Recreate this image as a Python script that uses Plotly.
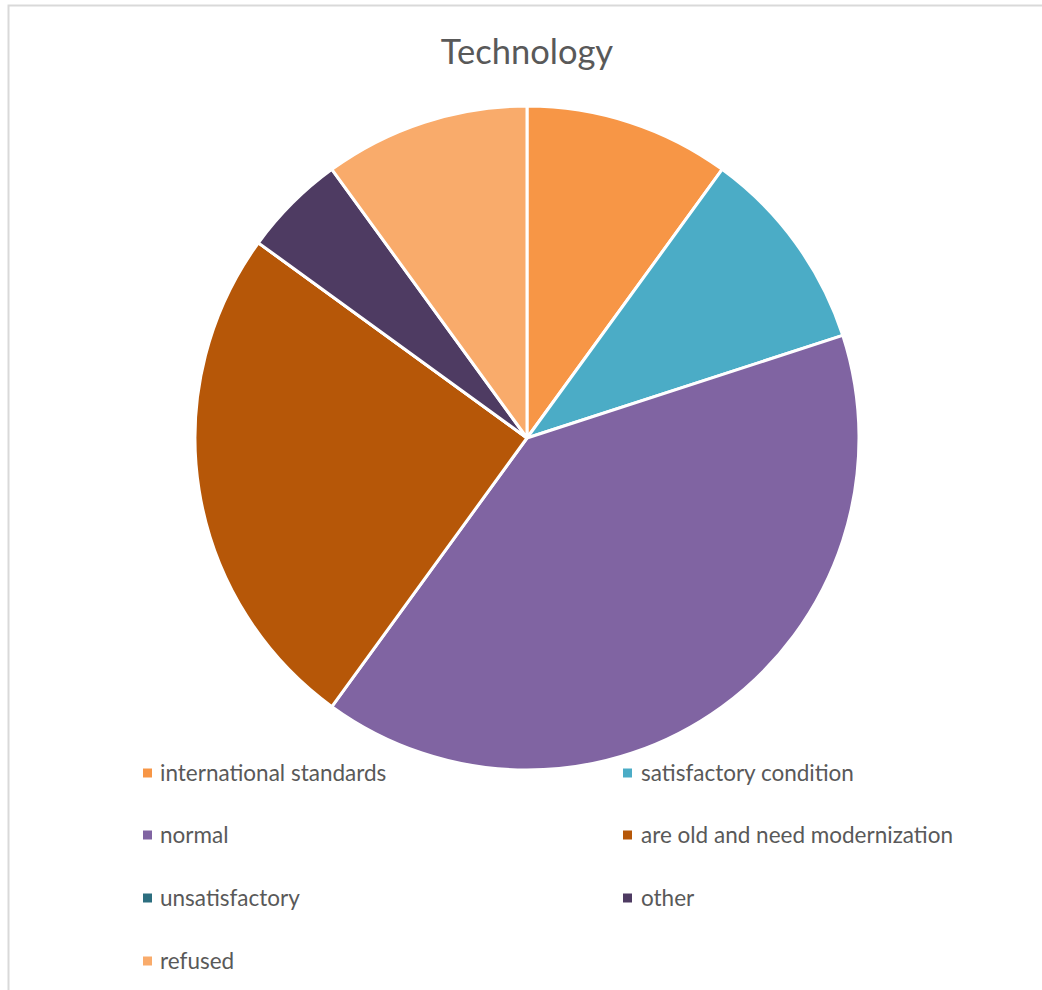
import plotly.graph_objects as go

# Survey answers on the state of technology
categories = [
    "international standards",
    "satisfactory condition",
    "normal",
    "are old and need modernization",
    "unsatisfactory",
    "other",
    "refused",
]
shares = [10, 10, 40, 25, 0, 5, 10]
colors = ["#F79646", "#4BACC6", "#8064A2", "#B65708", "#2C6E7F", "#4E3B62", "#F9AB6B"]

W, H = 1042, 990
TEXT = "#595959"
FONT = "Lato, Carlito, 'Open Sans', sans-serif"

# pie placement in pixels
cx, cy, r = 527, 438, 332

fig = go.Figure(
    go.Pie(
        labels=categories,
        values=shares,
        marker=dict(colors=colors, line=dict(color="white", width=3)),
        sort=False,
        direction="clockwise",
        rotation=0,
        textinfo="none",
        hoverinfo="label+percent",
        showlegend=False,
        domain=dict(
            x=[(cx - r) / W, (cx + r) / W],
            y=[(H - cy - r) / H, (H - cy + r) / H],
        ),
    )
)

# two-column legend beneath the pie
col_marker_x = [143, 623]
col_text_x = [158, 639]
row_y = [773, 835, 898, 961]
shapes = []
annotations = []
for i, (name, col) in enumerate(zip(categories, colors)):
    c, rrow = i % 2, i // 2
    y = row_y[rrow]
    mx = col_marker_x[c]
    shapes.append(dict(
        type="rect", xref="paper", yref="paper",
        x0=mx / W, x1=(mx + 9) / W,
        y0=(H - y - 4.5) / H, y1=(H - y + 4.5) / H,
        fillcolor=col, line=dict(width=0),
    ))
    annotations.append(dict(
        text=name, xref="paper", yref="paper",
        x=col_text_x[c] / W, y=(H - y + 1) / H,
        xanchor="left", yanchor="middle", showarrow=False,
        font=dict(family=FONT, size=22.5, color=TEXT),
    ))

# chart-area frame
shapes.append(dict(
    type="rect", xref="paper", yref="paper",
    x0=8.5 / W, x1=1.02, y0=-0.02, y1=1 - 5.5 / H,
    line=dict(color="#D9D9D9", width=2), fillcolor="rgba(0,0,0,0)",
    layer="below",
))

fig.update_layout(
    width=W, height=H,
    margin=dict(l=0, r=0, t=0, b=0),
    paper_bgcolor="white",
    plot_bgcolor="white",
    title=dict(
        text="Technology",
        x=cx / W, xanchor="center",
        y=1 - 52 / H, yanchor="middle",
        font=dict(family=FONT, size=34.5, color=TEXT),
    ),
    shapes=shapes,
    annotations=annotations,
)

fig.write_html("out.html")
